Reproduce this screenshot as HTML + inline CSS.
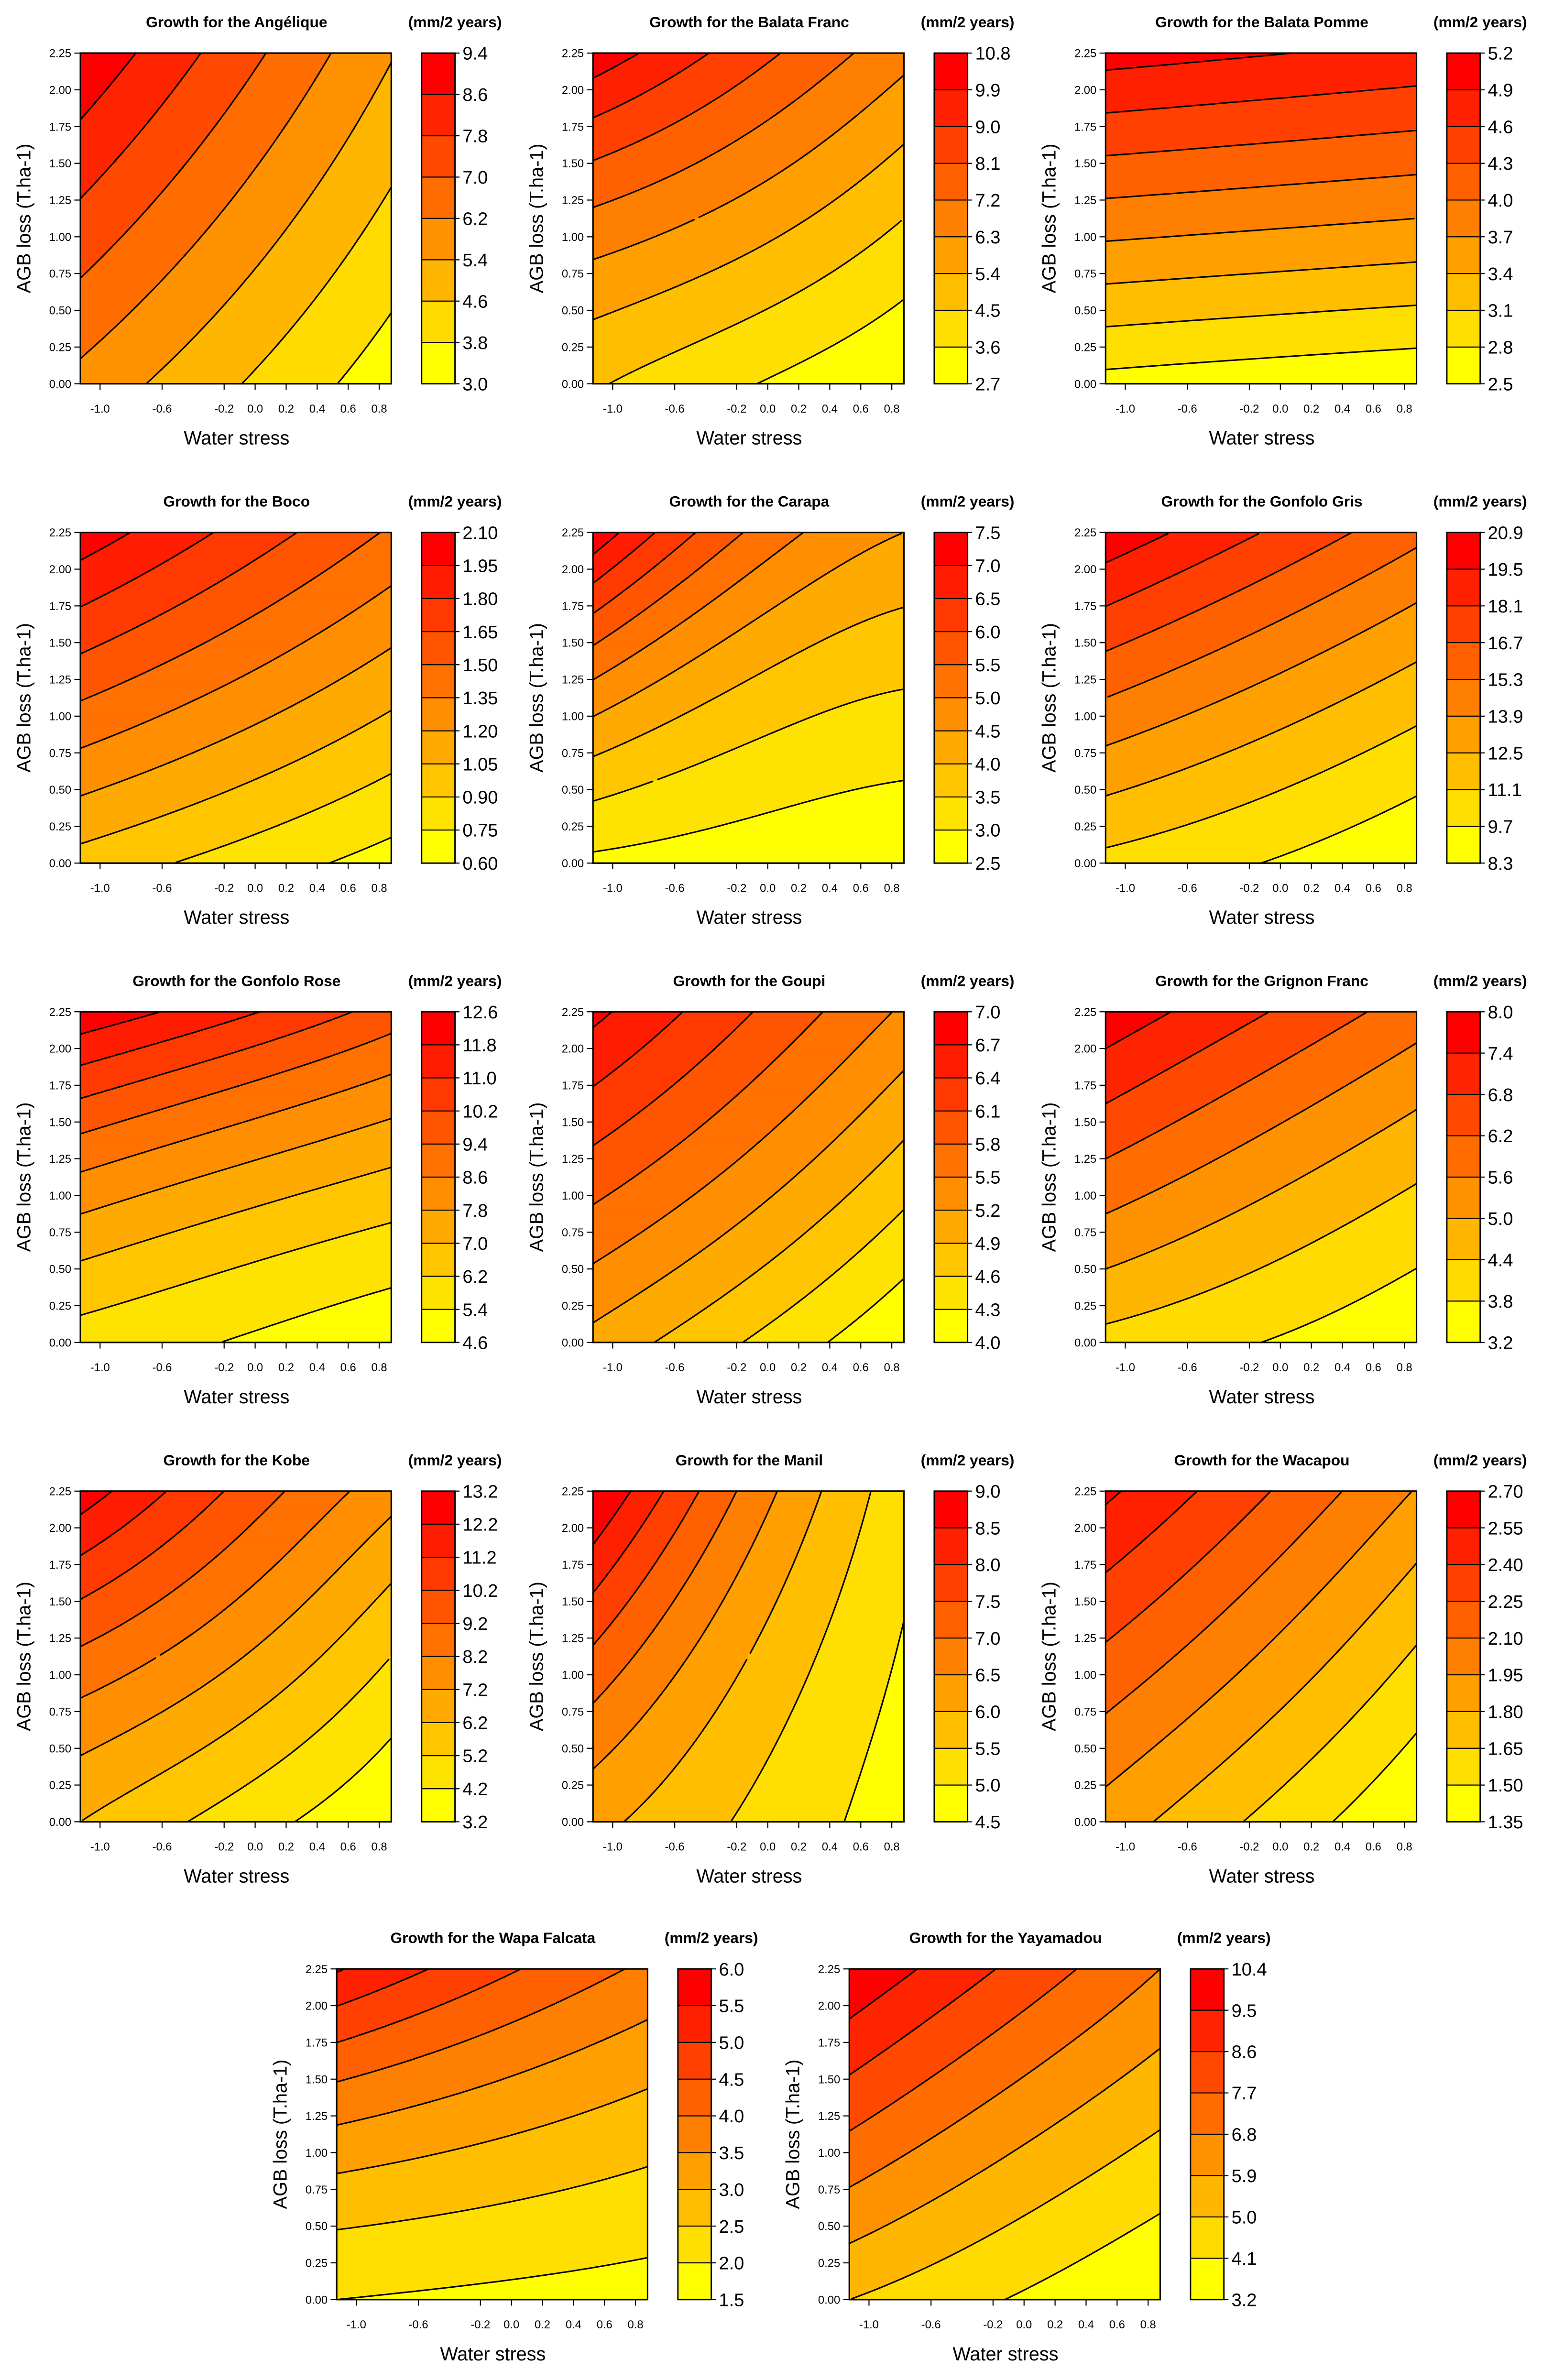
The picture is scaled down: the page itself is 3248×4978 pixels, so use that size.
<!DOCTYPE html>
<html><head><meta charset="utf-8"><title>Growth contour plots</title>
<style>
html,body{margin:0;padding:0;background:#fff;}
svg{display:block;}
text{font-family:"Liberation Sans",Arial,sans-serif;fill:#000;}
</style></head>
<body>
<svg id="chart" xmlns="http://www.w3.org/2000/svg" width="3248" height="4978" viewBox="0 0 1024 1569" preserveAspectRatio="none">
<rect x="0" y="0" width="1024" height="1569" fill="#fff"/>
</svg>
<script>
const titles = ["Growth for the Angélique","Growth for the Balata Franc","Growth for the Balata Pomme","Growth for the Boco","Growth for the Carapa","Growth for the Gonfolo Gris","Growth for the Gonfolo Rose","Growth for the Goupi","Growth for the Grignon Franc","Growth for the Kobe","Growth for the Manil","Growth for the Wacapou","Growth for the Wapa Falcata","Growth for the Yayamadou"];
const levStart = [3.0,2.7,2.5,0.60,2.5,8.3,4.6,4.0,3.2,3.2,4.5,1.35,1.5,3.2];
const levStep  = [0.8,0.9,0.3,0.15,0.5,1.4,0.8,0.3,0.6,1.0,0.5,0.15,0.5,0.9];
const levN     = [9,10,10,11,11,10,11,11,9,11,10,10,10,9];
const levDec   = [1,1,1,2,1,1,1,1,1,1,1,2,1,1];
// field values on a 3x3 grid: rows = AGB loss 0, 1.125, 2.25; cols = water stress left, middle, right
const fields = [
 [5.95,4.65,3.35, 7.6,6.0,4.4, 9.28,7.37,5.46],
 [4.6,3.65,2.75, 7.0,5.9,4.5, 10.5,8.5,6.6],
 [2.7,2.62,2.55, 3.86,3.78,3.7, 5.02,4.92,4.82],
 [0.99,0.84,0.69, 1.51,1.3,1.08, 2.04,1.76,1.48],
 [2.9,2.75,2.6, 4.75,3.85,3.45, 7.4,5.45,4.5],
 [10.7,9.7,8.5, 15.3,13.5,11.7, 20.5,18.1,15.7],
 [5.85,5.35,4.85, 8.5,7.6,6.85, 12.4,11.2,9.85],
 [5.1,4.58,4.02, 5.94,5.38,4.74, 6.78,6.12,5.45],
 [4.2,3.8,3.35, 6.0,5.2,4.45, 7.8,6.85,5.9],
 [6.2,4.75,3.3, 9.0,7.3,5.2, 12.8,10.0,7.6],
 [6.15,5.42,4.75, 7.4,6.0,4.95, 9.1,6.85,5.2],
 [1.88,1.62,1.36, 2.22,1.94,1.63, 2.58,2.27,1.94],
 [2.0,1.9,1.8, 3.4,3.05,2.7, 5.55,4.65,3.9],
 [5.0,4.1,3.2, 7.65,6.2,4.95, 10.3,8.5,6.8]
];
const xTicks = [-1.0,-0.6,-0.2,0.0,0.2,0.4,0.6,0.8];
const xTickLabels = ["-1.0","-0.6","-0.2","0.0","0.2","0.4","0.6","0.8"];
const yTicks = [0,0.25,0.5,0.75,1.0,1.25,1.5,1.75,2.0,2.25];
const yTickLabels = ["0.00","0.25","0.50","0.75","1.00","1.25","1.50","1.75","2.00","2.25"];

const NS="http://www.w3.org/2000/svg";
const svg=document.getElementById('chart');
const XMIN=-1.127, XMAX=0.878, YMIN=0, YMAX=2.25, PW=205, PH=218;
const origins=[[53,35],[391,35],[729,35],[53,351],[391,351],[729,351],[53,667],[391,667],[729,667],[53,983],[391,983],[729,983],[222,1298],[560,1298]];
function mk(tag,attrs,parent){const e=document.createElementNS(NS,tag);for(const k in attrs)e.setAttribute(k,attrs[k]);(parent||svg).appendChild(e);return e;}
function L(t){return [2*(t-0.5)*(t-1),-4*t*(t-1),2*t*(t-0.5)];}
function field(g,u,v){const a=L(u),b=L(v);let s=0;for(let r=0;r<3;r++)for(let c=0;c<3;c++)s+=g[r*3+c]*b[r]*a[c];return s;}
function bandColor(i,n){const h=60*(1-(n<=1?0:i/(n-1)));return 'hsl('+h.toFixed(2)+',100%,50%)';}

origins.forEach((o,p)=>{
  const X=o[0],Y=o[1];
  const sx=x=>X+(x-XMIN)/(XMAX-XMIN)*PW;
  const sy=y=>Y+PH-(y-YMIN)/(YMAX-YMIN)*PH;
  const g=fields[p], st=levStart[p], sp=levStep[p], n=levN[p], nb=n-1;
  const grp=mk('g',{});
  
  
  const NX=120, NY=100;
  const z=[];
  for(let j=0;j<=NY;j++){const row=[];const v=1-j/NY;for(let i=0;i<=NX;i++)row.push(field(g,i/NX,v));z.push(row);}
  const cw=PW/NX, ch=PH/NY;
  const fillG=mk('g',{},grp);
  
  
  for(let j=0;j<NY;j++){
    let start=0,cur=-1;
    for(let i=0;i<=NX;i++){
      let b=-2;
      if(i<NX){const zc=(z[j][i]+z[j][i+1]+z[j+1][i]+z[j+1][i+1])/4;b=Math.floor((zc-st)/sp);b=Math.max(0,Math.min(nb-1,b));}
      if(b!==cur){
        if(cur>=0){const r=mk('rect',{x:(X+start*cw).toFixed(2),y:(Y+j*ch).toFixed(2),width:((i-start)*cw+0.3).toFixed(2),height:(ch+0.3).toFixed(2),fill:bandColor(cur,nb)},fillG);
          
          }
        start=i;cur=b;
      }
    }
  }
  let d='';
  for(let k=1;k<n-1;k++){
    const lv=st+k*sp;
    for(let j=0;j<NY;j++)for(let i=0;i<NX;i++){
      const tl=z[j][i],tr=z[j][i+1],br=z[j+1][i+1],bl=z[j+1][i];
      const x0=X+i*cw,y0=Y+j*ch;
      const pts=[];
      const cr=(a,b)=>(a-lv)*(b-lv)<0;
      if(cr(tl,tr))pts.push([x0+cw*(lv-tl)/(tr-tl),y0]);
      if(cr(tr,br))pts.push([x0+cw,y0+ch*(lv-tr)/(br-tr)]);
      if(cr(br,bl))pts.push([x0+cw*(lv-bl)/(br-bl),y0+ch]);
      if(cr(bl,tl))pts.push([x0,y0+ch*(lv-tl)/(bl-tl)]);
      if(pts.length>=2){d+='M'+pts[0][0].toFixed(2)+' '+pts[0][1].toFixed(2)+'L'+pts[1][0].toFixed(2)+' '+pts[1][1].toFixed(2);}
      if(pts.length===4){d+='M'+pts[2][0].toFixed(2)+' '+pts[2][1].toFixed(2)+'L'+pts[3][0].toFixed(2)+' '+pts[3][1].toFixed(2);}
    }
  }
  const cl=mk('path',{d:d,fill:'none',stroke:'#000','stroke-width':1.0,'stroke-linecap':'round'},grp);
  
  
  const fr=mk('rect',{x:X,y:Y,width:PW,height:PH,fill:'none',stroke:'#000','stroke-width':1.0},grp);
  
  
  xTicks.forEach((t,i)=>{
    const tk=mk('line',{x1:sx(t),x2:sx(t),y1:Y+PH,y2:Y+PH+4,stroke:'#000','stroke-width':0.7},grp);
    
    
    const tx=mk('text',{x:sx(t),y:Y+PH+19,'font-size':7.5,'text-anchor':'middle'},grp);
    tx.textContent=xTickLabels[i];
    
    
  });
  yTicks.forEach((t,i)=>{
    const tk=mk('line',{x1:X-4,x2:X,y1:sy(t),y2:sy(t),stroke:'#000','stroke-width':0.7},grp);
    
    
    const tx=mk('text',{x:X-6,y:sy(t)+2.7,'font-size':7.5,'text-anchor':'end'},grp);
    tx.textContent=yTickLabels[i];
    
    
  });
  const xt=mk('text',{x:X+103,y:Y+258,'font-size':12.5,'text-anchor':'middle'},grp);
  xt.textContent='Water stress';
  
  
  const yt=mk('text',{x:0,y:0,'font-size':12.5,'text-anchor':'middle',transform:'translate('+(X-33)+','+(Y+109)+') rotate(-90)'},grp);
  yt.textContent='AGB loss (T.ha-1)';
  
  
  const tt=mk('text',{x:X+103,y:Y-17,'font-size':10,'font-weight':'bold','text-anchor':'middle'},grp);
  tt.textContent=titles[p];
  
  
  const CX=X+225, CW=22, bh=PH/nb;
  for(let b=0;b<nb;b++){
    const r=mk('rect',{x:CX,y:(Y+PH-(b+1)*bh).toFixed(2),width:CW,height:(bh+0.2).toFixed(2),fill:bandColor(b,nb)},grp);
    
    
  }
  const cf=mk('rect',{x:CX,y:Y,width:CW,height:PH,fill:'none',stroke:'#000','stroke-width':0.9},grp);
  
  
  for(let k=0;k<n;k++){
    const yy=Y+PH-k*bh;
    const tk=mk('line',{x1:CX,x2:CX+CW+3,y1:yy,y2:yy,stroke:'#000','stroke-width':0.7},grp);
    
    
    const tx=mk('text',{x:CX+CW+5,y:yy+4.3,'font-size':12},grp);
    tx.textContent=(st+k*sp).toFixed(levDec[p]);
    
    
  }
  const ut=mk('text',{x:CX+CW,y:Y-17,'font-size':10,'font-weight':'bold','text-anchor':'middle'},grp);
  ut.textContent='(mm/2 years)';
  
  
});
</script>
</body></html>
